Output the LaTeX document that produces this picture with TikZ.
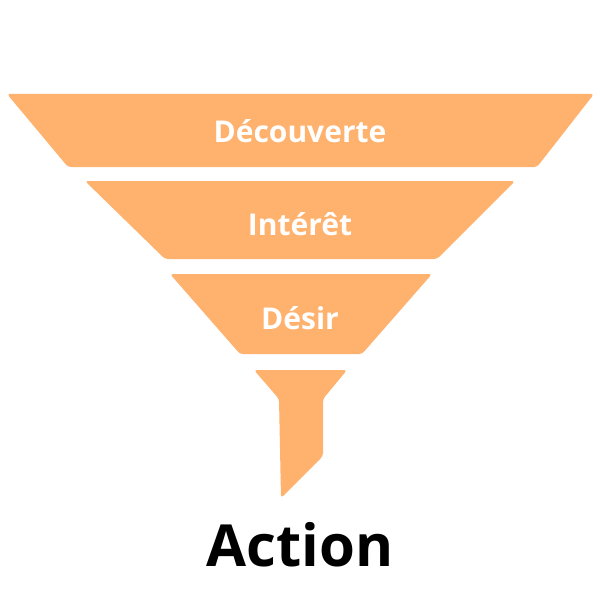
\documentclass[tikz,border=0pt]{standalone}
\usepackage{fontspec}
\setmainfont{Open Sans}
\usepackage{tikz}
\usetikzlibrary{positioning,calc}
\definecolor{funnelorange}{RGB}{255,177,110}

\begin{document}
\begin{tikzpicture}[x=1pt,y=-1pt,
  layer/.style={fill=funnelorange,draw=none,rounded corners=3pt},
  lbl/.style={font=\fontsize{30}{34}\selectfont\bfseries,color=white},
  act/.style={font=\fontsize{58}{64}\selectfont\bfseries,color=black}]
  \useasboundingbox (0,0) rectangle (600,594);
  % funnel layers
  \fill[layer] (7,94) -- (594,94) -- (537,167) -- (68,167) -- cycle;
  \fill[layer] (85,181) -- (515,181) -- (437,259) -- (165,259) -- cycle;
  \fill[layer] (170,274) -- (432,274) -- (362,354) -- (240,354) -- cycle;
  \fill[layer] (254,370) -- (347,370) -- (323,399) -- (323,456)
    -- (281,498) -- (279,399) -- cycle;
  % labels
  \node[lbl] (disc) at (300,131) {Découverte};
  \node[lbl] (inter) at (300,224) {Intérêt};
  \node[lbl] (desir) at (300,318) {Désir};
  \node[act] (action) at (300,545) {Action};
\end{tikzpicture}
\end{document}
